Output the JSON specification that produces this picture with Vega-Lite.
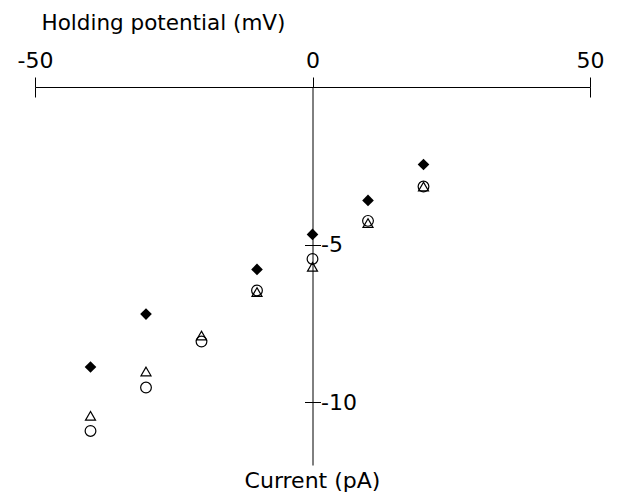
{
  "$schema": "https://vega.github.io/schema/vega-lite/v6.json",
  "width": 555,
  "height": 378,
  "autosize": {"type": "none"},
  "padding": {"left": 35, "top": 87, "right": 28, "bottom": 34},
  "background": "white",
  "config": {
    "view": {"stroke": null},
    "axis": {
      "grid": false,
      "labelFlush": false,
      "labelOverlap": false,
      "labelBound": false,
      "domainColor": "black",
      "tickColor": "black",
      "labelColor": "black",
      "titleColor": "black",
      "labelFont": "DejaVu Sans",
      "titleFont": "DejaVu Sans",
      "labelFontSize": 22,
      "titleFontSize": 21.5,
      "titleFontWeight": "normal",
      "domainWidth": 1,
      "tickWidth": 1
    }
  },
  "title": {
    "text": "Current (pA)",
    "orient": "bottom",
    "anchor": "middle",
    "frame": "group",
    "font": "DejaVu Sans",
    "fontSize": 22,
    "fontWeight": "normal",
    "color": "black",
    "baseline": "alphabetic",
    "offset": 23
  },
  "data": {
    "values": [
      {"mV": -40, "current": -8.89, "series": "diamond"},
      {"mV": -30, "current": -7.21, "series": "diamond"},
      {"mV": -10, "current": -5.79, "series": "diamond"},
      {"mV": 0, "current": -4.68, "series": "diamond"},
      {"mV": 10, "current": -3.6, "series": "diamond"},
      {"mV": 20, "current": -2.46, "series": "diamond"},
      {"mV": -40, "current": -10.44, "series": "triangle"},
      {"mV": -30, "current": -9.03, "series": "triangle"},
      {"mV": -20, "current": -7.89, "series": "triangle"},
      {"mV": -10, "current": -6.51, "series": "triangle"},
      {"mV": 0, "current": -5.71, "series": "triangle"},
      {"mV": 10, "current": -4.32, "series": "triangle"},
      {"mV": 20, "current": -3.16, "series": "triangle"},
      {"mV": -40, "current": -10.92, "series": "circle"},
      {"mV": -30, "current": -9.54, "series": "circle"},
      {"mV": -20, "current": -8.08, "series": "circle"},
      {"mV": -10, "current": -6.46, "series": "circle"},
      {"mV": 0, "current": -5.46, "series": "circle"},
      {"mV": 10, "current": -4.25, "series": "circle"},
      {"mV": 20, "current": -3.16, "series": "circle"}
    ]
  },
  "layer": [
    {
      "transform": [{"filter": "datum.series === 'diamond'"}],
      "mark": {"type": "point", "shape": "diamond", "filled": true, "color": "black", "opacity": 1, "size": 135},
      "encoding": {
        "x": {
          "field": "mV", "type": "quantitative",
          "scale": {"domain": [-50, 50], "nice": false, "zero": false},
          "axis": {
            "orient": "top",
            "values": [-50, 0, 50],
            "tickSize": 10,
            "labelPadding": 10,
            "labelBaseline": "alphabetic",
            "labelFlush": false,
            "labelExpr": "datum.value < 0 ? '-' + abs(datum.value) : '' + datum.value",
            "title": "Holding potential (mV)",
            "titleX": 6,
            "titleY": -58,
            "titleAlign": "left",
            "titleBaseline": "alphabetic",
            "titleAngle": 0
          }
        },
        "y": {
          "field": "current", "type": "quantitative",
          "scale": {"domain": [-12, 0], "nice": false, "zero": false},
          "axis": {
            "orient": "right",
            "offset": -277.5,
            "values": [-5, -10],
            "tickSize": 8,
            "labelPadding": 0,
            "labelFlush": false,
            "labelExpr": "datum.value < 0 ? '-' + abs(datum.value) : '' + datum.value",
            "title": null
          }
        }
      }
    },
    {
      "transform": [{"filter": "datum.series === 'triangle'"}],
      "mark": {"type": "point", "shape": "triangle-up", "filled": false, "color": "black", "opacity": 1, "strokeWidth": 1.2, "size": 100},
      "encoding": {
        "x": {
          "field": "mV", "type": "quantitative",
          "axis": {
            "orient": "bottom",
            "offset": -378,
            "values": [-50, 50],
            "tickSize": 10,
            "labels": false,
            "domain": false,
            "title": null
          }
        },
        "y": {
          "field": "current", "type": "quantitative",
          "axis": {
            "orient": "left",
            "offset": -277.5,
            "values": [-5, -10],
            "tickSize": 8,
            "labels": false,
            "domain": false,
            "title": null
          }
        }
      }
    },
    {
      "transform": [{"filter": "datum.series === 'circle'"}],
      "mark": {"type": "point", "shape": "circle", "filled": false, "color": "black", "opacity": 1, "strokeWidth": 1.2, "size": 115},
      "encoding": {
        "x": {"field": "mV", "type": "quantitative", "axis": null},
        "y": {"field": "current", "type": "quantitative", "axis": null}
      }
    }
  ],
  "resolve": {"axis": {"x": "independent", "y": "independent"}}
}
